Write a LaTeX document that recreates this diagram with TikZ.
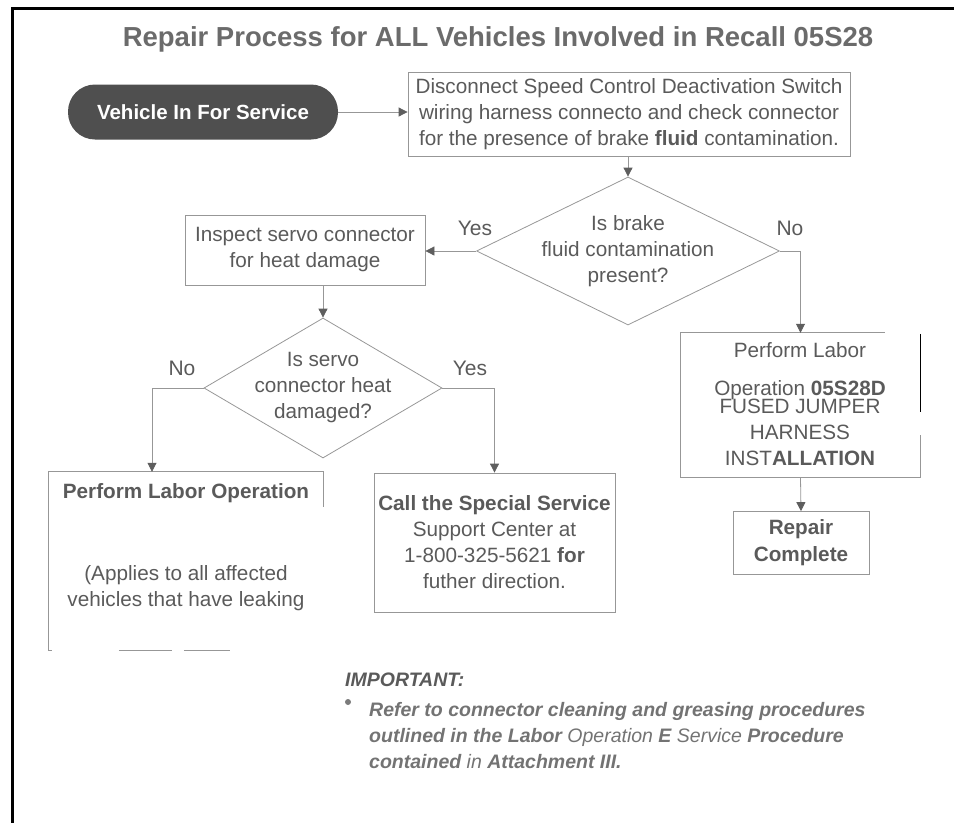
\documentclass[tikz,border=0pt]{standalone}
\usepackage{fontspec}
\setmainfont{Liberation Sans}
\usetikzlibrary{positioning,shapes.geometric,arrows.meta}
\definecolor{inkgray}{HTML}{5A5A5A}
\definecolor{linegray}{HTML}{979797}
\definecolor{tipgray}{HTML}{5E5E5E}
\definecolor{pillgray}{HTML}{4F4F4F}
\tikzset{
box/.style={rectangle,draw=linegray,line width=0.8pt,inner sep=0pt,
text=inkgray,align=center,font=\fontsize{20.7}{26}\selectfont},
decision/.style={diamond,draw=linegray,line width=0.8pt,inner sep=0pt},
txt/.style={text=inkgray,align=center,inner sep=0pt,
font=\fontsize{20.7}{26}\selectfont},
start/.style={rectangle,rounded corners=27pt,fill=pillgray,text=white,
minimum width=270pt,minimum height=55pt,
font=\bfseries\fontsize{20.5}{24}\selectfont},
answer/.style={text=inkgray,inner sep=0pt,font=\fontsize{21}{22}\selectfont},
flow/.style={draw=linegray,line width=0.8pt,-{Triangle[length=9pt,width=9pt,color=tipgray]}},
edge/.style={draw=linegray,line width=0.8pt}
}

\begin{document}
\begin{tikzpicture}[x=1pt,y=-1pt]
\useasboundingbox (0,0) rectangle (954,823);
\draw[line width=3pt] (954,8) -| (12,823);

\node[text=inkgray!90,font=\bfseries\fontsize{27.5}{30}\selectfont] (title) at (498,39)
{Repair Process for ALL Vehicles Involved in Recall 05S28};

\node[start] (start) at (203,112) {Vehicle In For Service};
\node[box,minimum width=442pt,minimum height=84pt] (check) at (629,114)
{Disconnect Speed Control Deactivation Switch\\wiring harness connecto and check connector\\for the presence of brake \textbf{fluid} contamination.};

\node[decision,minimum width=303pt,minimum height=148pt] (brake) at (628,251) {};
\node[txt] (braket) at (brake) {Is brake\\fluid contamination\\present?};
\node[answer] (yes1) at (475,228) {Yes};
\node[answer] (no1) at (790,228) {No};

\node[box,minimum width=240pt,minimum height=70pt] (inspect) at (305,250)
{Inspect servo connector\\for heat damage};

\node[decision,minimum width=238pt,minimum height=140pt] (servo) at (323,388) {};
\node[txt] (servot) at (servo) {Is servo\\connector heat\\damaged?};
\node[answer] (no2) at (182,368) {No};
\node[answer] (yes2) at (470,368) {Yes};

% right branch
\node[minimum width=239pt,minimum height=144pt,inner sep=0pt] (fused) at (800.5,405) {};
\draw[edge] ([xshift=204pt]fused.north west) -- (fused.north west) -- (fused.south west)
 -- (fused.south east) -- ([yshift=42pt]fused.south east);
\draw[line width=1.2pt] ([yshift=-1pt]fused.north east) -- ([yshift=-79pt]fused.north east);
\node[txt] (fusedt1) at (800,371) {Perform Labor\\[12pt]Operation \textbf{05S28D}};
\node[txt] (fusedt2) at (800,432) {FUSED JUMPER\\HARNESS\\INST\textbf{ALLATION}};

\node[box,minimum width=136pt,minimum height=63pt,font=\bfseries\fontsize{20.7}{27}\selectfont] (done) at (801,543) {Repair\\Complete};

% left branch
\node[minimum width=274pt,minimum height=178pt,inner sep=0pt] (leak) at (186,561) {};
\draw[edge] ([yshift=-35pt]leak.north east) -- (leak.north east) -- (leak.north west)
 -- (leak.south west) -- ([xshift=3pt]leak.south west);
\draw[edge] ([xshift=70pt]leak.south west) -- ([xshift=123pt]leak.south west);
\draw[edge] ([xshift=135pt]leak.south west) -- ([xshift=181pt]leak.south west);
\node[txt,font=\bfseries\fontsize{20.7}{26}\selectfont] (leakt1) at (186,493) {Perform Labor Operation};
\node[txt] (leakt2) at (186,588) {(Applies to all affected\\vehicles that have leaking};

\node[box,minimum width=241pt,minimum height=139pt] (call) at (494.5,542.5)
{\textbf{Call the Special Service}\\Support Center at\\1-800-325-5621 \textbf{for}\\futher direction.};

% connectors
\draw[flow] (start.east) -- (start.east -| check.west);
\draw[flow] (check.south -| brake) -- (brake.north);
\draw[flow] (brake.west) -- (brake.west -| inspect.east);
\draw[flow] (brake.east) -| (fused.north);
\draw[flow] (fused.south) -- (done.north);
\draw[flow] (inspect.south -| servo) -- (servo.north);
\draw[flow] (servo.west) -| ([xshift=-34pt]leak.north);
\draw[flow] (servo.east) -| (call.north);

% note
\node[anchor=west,text=inkgray,inner sep=0pt,font=\bfseries\itshape\fontsize{19.5}{22}\selectfont] (important) at (345,680) {IMPORTANT:};
\node[circle,fill=inkgray!80,inner sep=0pt,minimum size=6pt] (dot) at (348,702) {};
\node[anchor=north west,align=left,text=inkgray!85,inner sep=0pt,font=\bfseries\itshape\fontsize{19.5}{26}\selectfont] (refer) at (369,702)
{Refer to connector cleaning and greasing procedures\\
outlined in the Labor {\mdseries Operation} E {\mdseries Service} Procedure\\
contained {\mdseries in} Attachment III.};
\end{tikzpicture}
\end{document}
